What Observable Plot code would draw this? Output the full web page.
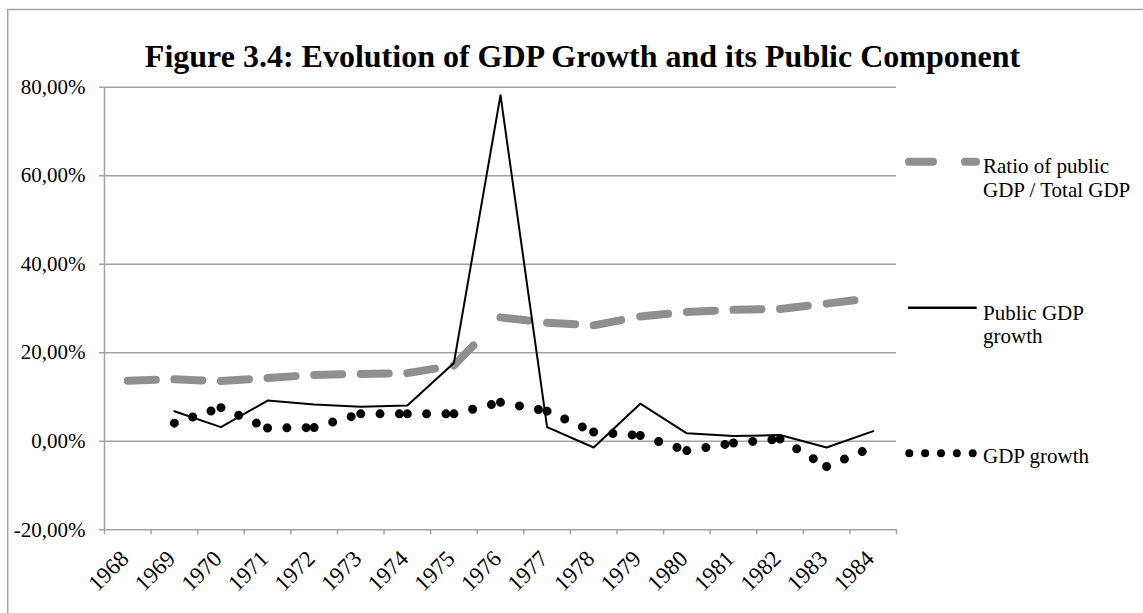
<!DOCTYPE html>
<html>
<head>
<meta charset="utf-8">
<script src="https://cdn.jsdelivr.net/npm/d3@7"></script>
<script src="https://cdn.jsdelivr.net/npm/@observablehq/plot@0.6"></script>
<style>
  html, body { margin: 0; padding: 0; background: #fff; }
  #chart { width: 1143px; height: 613px; }
</style>
</head>
<body>
<div id="chart"></div>
<script>
// Yearly series, in percent
const years = [1968, 1969, 1970, 1971, 1972, 1973, 1974, 1975, 1976, 1977, 1978, 1979, 1980, 1981, 1982, 1983, 1984];
const ratioPublicToTotal = [13.7, 14.0, 13.6, 14.3, 15.0, 15.2, 15.4, 17.1, 28.0, 26.8, 26.2, 28.2, 29.2, 29.7, 29.9, 31.1, 32.4];
const publicGdpGrowth = [null, 6.8, 3.2, 9.2, 8.3, 7.8, 8.1, 17.7, 78.2, 3.2, -1.4, 8.5, 1.8, 1.2, 1.4, -1.4, 2.3];
const gdpGrowth = [null, 4.1, 7.6, 3.0, 3.1, 6.2, 6.2, 6.2, 8.8, 6.8, 2.1, 1.3, -2.1, -0.4, 0.5, -5.7, -1.3];
const yTicks = [-20, 0, 20, 40, 60, 80];
const seriesNames = ["Ratio of public", "GDP / Total GDP", "Public GDP", "growth", "GDP growth"];
const titleText = "Figure 3.4: Evolution of GDP Growth and its Public Component";

const GRID = "#a3a3a3";
const RATIO_GRAY = "#8f8f8f";
const FONT = "'Liberation Serif', 'Times New Roman', serif";

// One record per drawn segment, so that dash patterns restart at every year
function segments(values) {
  const out = [];
  for (let i = 1; i < years.length; i++) {
    if (values[i - 1] != null && values[i] != null) {
      out.push({x1: years[i - 1], y1: values[i - 1], x2: years[i], y2: values[i]});
    }
  }
  return out;
}

const publicRows = years.map((yr, i) => ({year: yr, value: publicGdpGrowth[i]})).filter(d => d.value != null);
const boundaries = years.map(y => y - 0.5).concat([years[years.length - 1] + 0.5]);
const pct = d => d.toFixed(2).replace(".", ",") + "%";

const plot = Plot.plot({
  width: 1143,
  height: 613,
  marginLeft: 104,
  marginRight: 247,
  marginTop: 86.7,
  marginBottom: 83.7,
  style: {fontFamily: FONT, fontSize: "21px", color: "black", background: "white", overflow: "visible"},
  x: {type: "linear", domain: [boundaries[0], boundaries[boundaries.length - 1]]},
  y: {domain: [-20, 80]},
  marks: [
    Plot.gridY(yTicks, {stroke: GRID, strokeOpacity: 1, strokeWidth: 1.5}),
    Plot.ruleX([boundaries[0]], {stroke: GRID, strokeWidth: 1.5}),
    Plot.axisY(yTicks, {tickSize: 5, tickPadding: 14, stroke: GRID, strokeWidth: 1.5, fill: "black", tickFormat: pct, fontSize: 21, label: null}),
    Plot.axisX(boundaries, {tickSize: 5, stroke: GRID, strokeWidth: 1.5, tickFormat: () => "", label: null}),
    Plot.axisX(years, {tickSize: 0, tickPadding: 25, dx: -3, tickRotate: -45, tickFormat: d => String(d), fontSize: 23, fill: "black", label: null}),
    Plot.link(segments(ratioPublicToTotal), {
      x1: "x1", y1: "y1", x2: "x2", y2: "y2",
      stroke: RATIO_GRAY, strokeWidth: 8, strokeLinecap: "round", strokeDasharray: "28,200"
    }),
    Plot.line(publicRows, {x: "year", y: "value", stroke: "black", strokeWidth: 2}),
    Plot.link(segments(gdpGrowth), {
      x1: "x1", y1: "y1", x2: "x2", y2: "y2",
      stroke: "black", strokeWidth: 9, strokeLinecap: "round", strokeDasharray: "0,19.3"
    })
  ]
});

const svg = d3.select(plot);

// Outer chart-area border (top and left edges)
svg.append("path")
  .attr("d", "M7.7,613V9.5H1143")
  .attr("fill", "none").attr("stroke", GRID).attr("stroke-width", 1.5);

// Title
svg.append("text")
  .attr("x", 582.5).attr("y", 66.7)
  .attr("text-anchor", "middle")
  .attr("font-family", FONT).attr("font-weight", "bold").attr("font-size", 32)
  .attr("fill", "black")
  .text(titleText);

// Legend
const lg = svg.append("g")
  .attr("font-family", FONT).attr("font-size", 21).attr("fill", "black").attr("text-anchor", "start");
lg.append("line").attr("x1", 909).attr("x2", 976).attr("y1", 161.7).attr("y2", 161.7)
  .attr("stroke", RATIO_GRAY).attr("stroke-width", 8).attr("stroke-linecap", "round").attr("stroke-dasharray", "24,32");
lg.append("text").attr("x", 983).attr("y", 173).text(seriesNames[0]);
lg.append("text").attr("x", 983).attr("y", 196.7).text(seriesNames[1]);

lg.append("line").attr("x1", 908).attr("x2", 976.7).attr("y1", 307.7).attr("y2", 307.7)
  .attr("stroke", "black").attr("stroke-width", 2.5);
lg.append("text").attr("x", 983).attr("y", 320).text(seriesNames[2]);
lg.append("text").attr("x", 983).attr("y", 343).text(seriesNames[3]);

lg.append("line").attr("x1", 909.3).attr("x2", 973).attr("y1", 453.3).attr("y2", 453.3)
  .attr("stroke", "black").attr("stroke-width", 8).attr("stroke-linecap", "round").attr("stroke-dasharray", "0,15.85");
lg.append("text").attr("x", 983).attr("y", 463).text(seriesNames[4]);

document.getElementById("chart").appendChild(plot);
</script>
</body>
</html>
